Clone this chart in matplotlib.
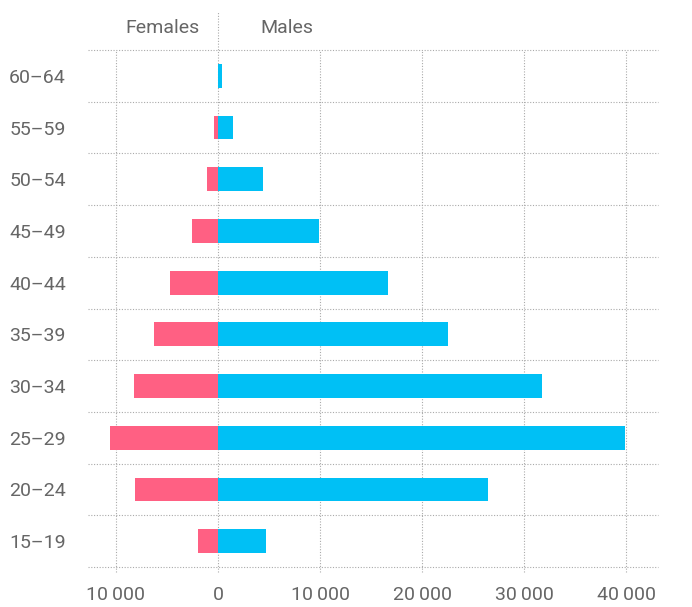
import matplotlib
matplotlib.use("Agg")
import matplotlib.pyplot as plt
import numpy as np

age_groups = ["15–19", "20–24", "25–29", "30–34", "35–39", "40–44", "45–49", "50–54", "55–59", "60–64"]
females = [2000, 8100, 10600, 8200, 6300, 4700, 2500, 1100, 400, 0]
males = [4700, 26500, 39900, 31800, 22500, 16700, 9900, 4400, 1500, 400]
x_ticks = [-10000, 0, 10000, 20000, 30000, 40000]
x_tick_labels = ["10\u2009000", "0", "10\u2009000", "20\u2009000", "30\u2009000", "40\u2009000"]

plt.rcParams['font.family'] = ['Roboto', 'DejaVu Sans']
text_color = "#666666"
grid_color = "#aaaaaa"
female_color = "#FF6083"
male_color = "#00C0F5"
fs = 14

W, H = 692, 607
fig = plt.figure(figsize=(W / 100, H / 100), dpi=100)
ax = fig.add_axes([88 / W, 1 - 567 / H, (658 - 88) / W, (567 - 50) / H])

y = np.arange(len(age_groups))
ax.barh(y, [-f for f in females], height=0.46, color=female_color, zorder=3)
ax.barh(y, males, height=0.46, color=male_color, zorder=3)

ax.set_xlim(-12745, 43137)
ax.set_ylim(-0.5, len(age_groups) - 0.5)

for s in ax.spines.values():
    s.set_visible(False)

for k in range(len(age_groups) + 1):
    ax.axhline(k - 0.5, color=grid_color, lw=0.8, ls=(0, (1, 1.5)), zorder=1, clip_on=False)
for t in x_ticks:
    top = 1 + 38 / 517 if t == 0 else 1.0
    ax.axvline(t, ymin=-5 / 517, ymax=top, color=grid_color, lw=0.8, ls=(0, (1, 1.5)), zorder=1, clip_on=False)

ax.set_yticks(y)
ax.set_yticklabels(age_groups)
ax.set_xticks(x_ticks)
ax.set_xticklabels(x_tick_labels)
ax.tick_params(axis='both', length=0, labelsize=fs, colors=text_color)
ax.tick_params(axis='y', pad=16)
ax.tick_params(axis='x', pad=14)

ax.text(200 / W, 1 - 28 / H, "Females", transform=fig.transFigure, ha='right', va='center',
        fontsize=fs, color=text_color)
ax.text(260 / W, 1 - 28 / H, "Males", transform=fig.transFigure, ha='left', va='center',
        fontsize=fs, color=text_color)

fig.savefig("out.png", dpi=100)
